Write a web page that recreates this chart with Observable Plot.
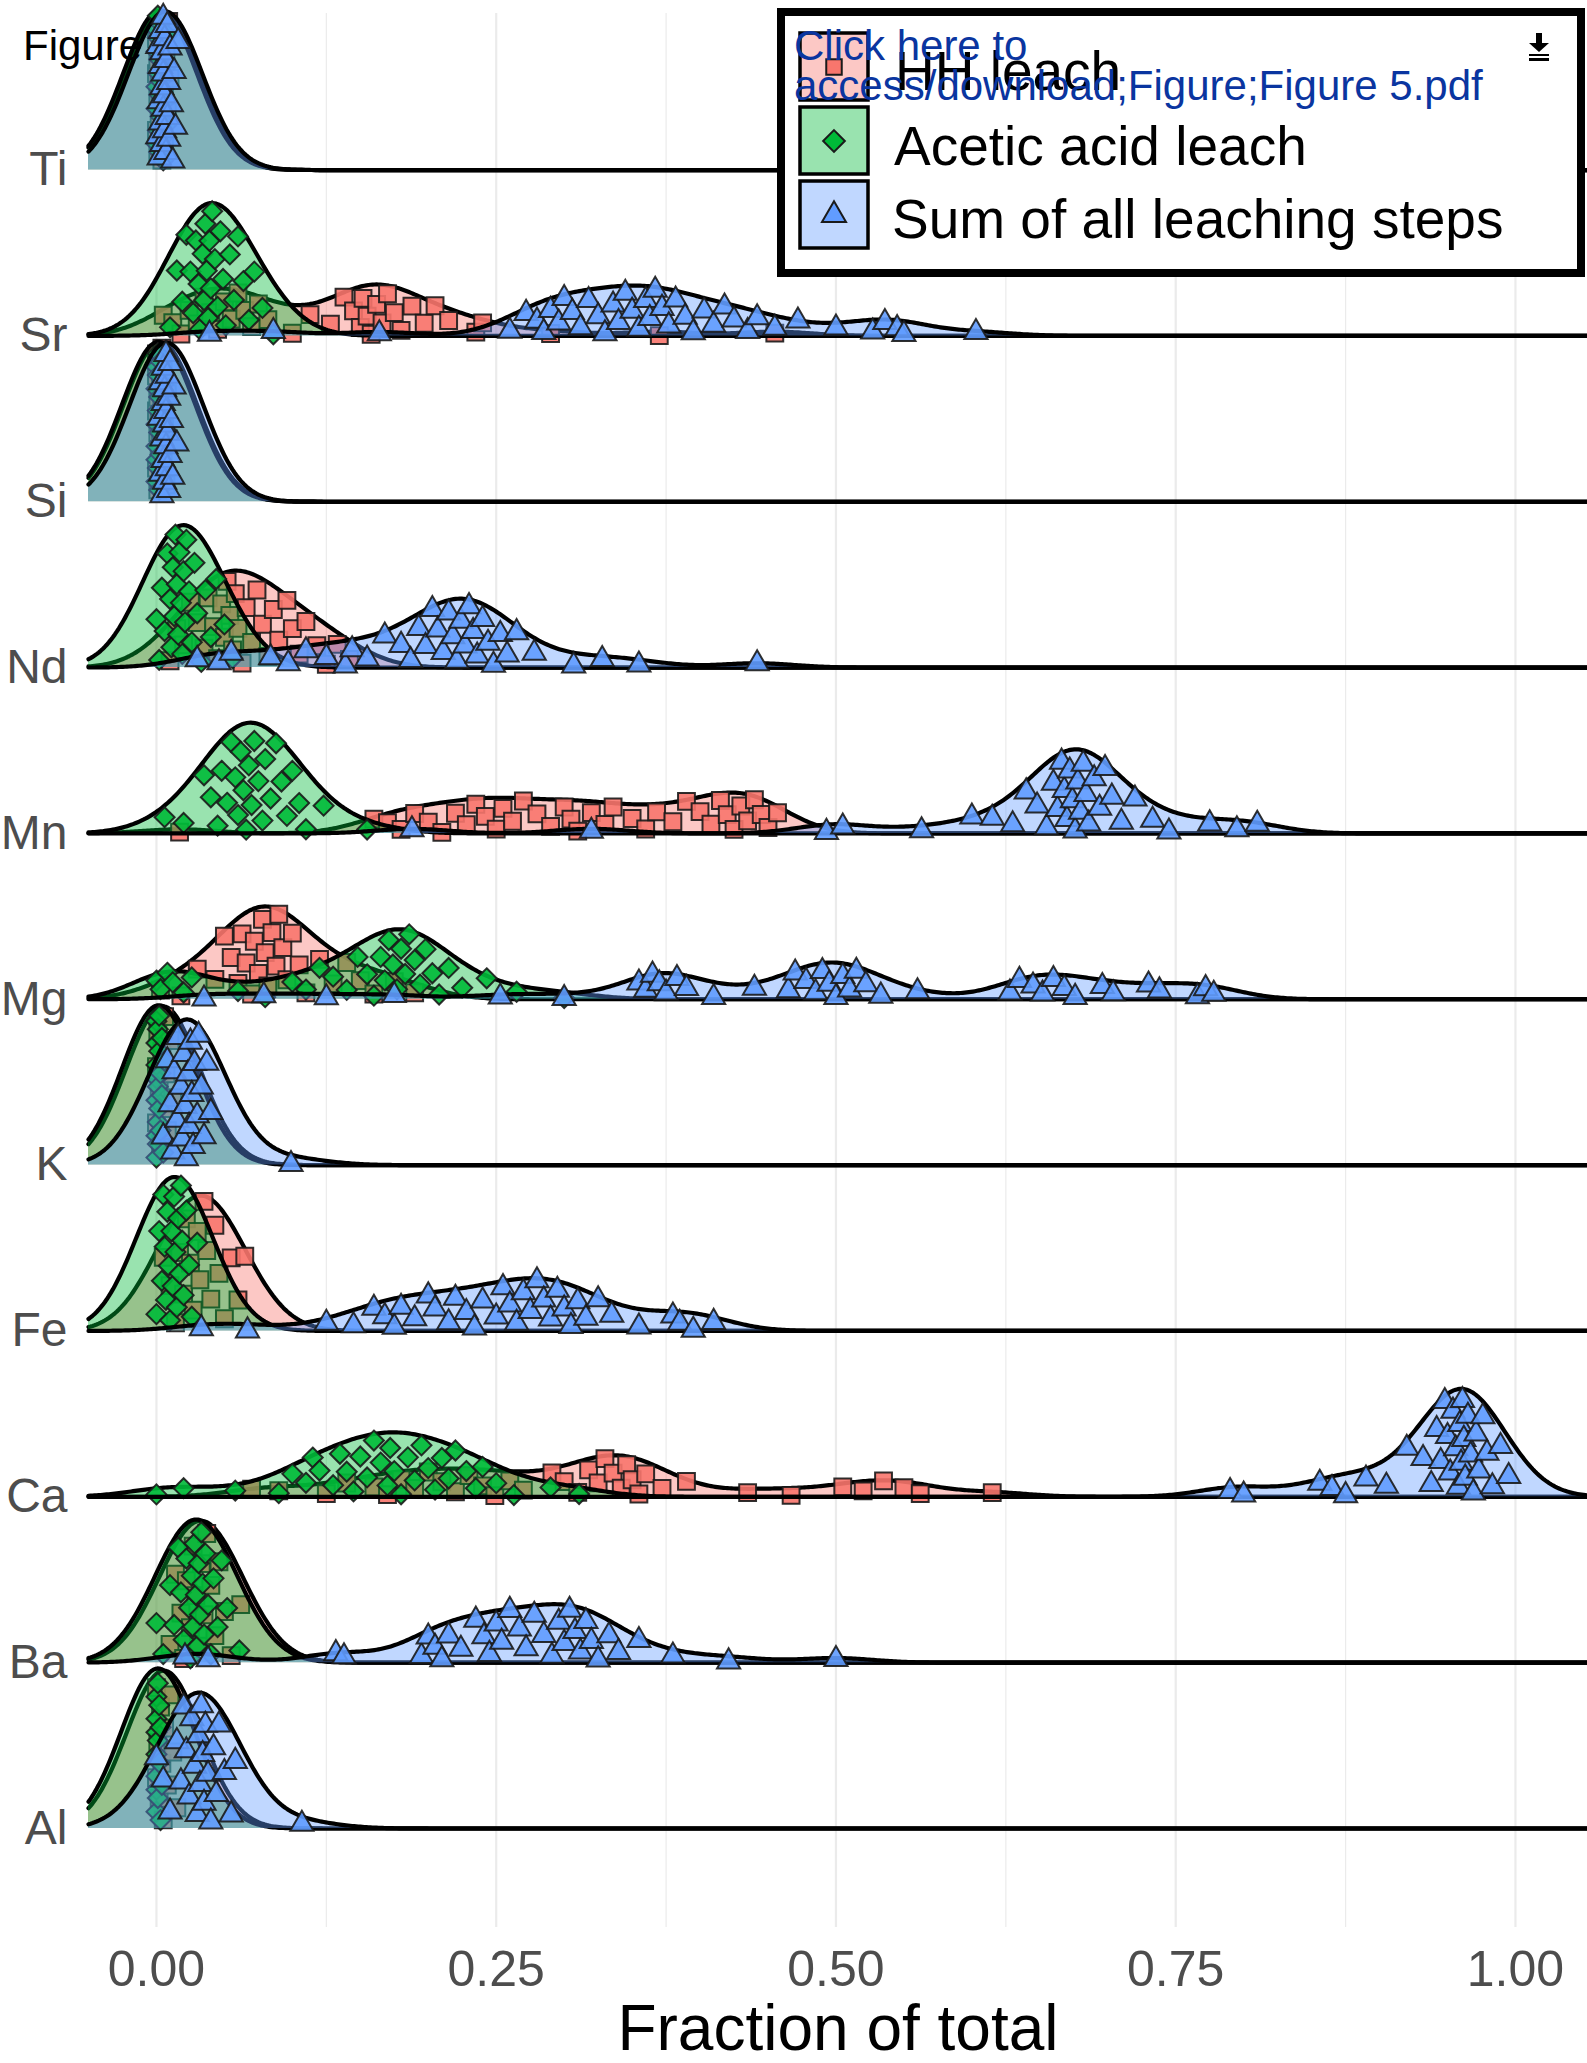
<!DOCTYPE html>
<html>
<head>
<meta charset="utf-8">
<script src="https://cdn.jsdelivr.net/npm/d3@7"></script>
<script src="https://cdn.jsdelivr.net/npm/@observablehq/plot@0.6"></script>
<style>
  html, body { margin: 0; padding: 0; background: #fff; }
  #wrap { position: relative; width: 1587px; height: 2063px; overflow: hidden; font-family: "Liberation Sans", Arial, Helvetica, sans-serif; }
  #overlay { position: absolute; left: 0; top: 0; pointer-events: none; }
</style>
</head>
<body>
<div id="wrap"></div>
<script>
// ---------------- data ----------------
const elements = ["Ti", "Sr", "Si", "Nd", "Mn", "Mg", "K", "Fe", "Ca", "Ba", "Al"]; // top to bottom
const seriesNames = ["HH leach", "Acetic acid leach", "Sum of all leaching steps"];
const xTicks = [0, 0.25, 0.5, 0.75, 1];
const xMinorTicks = [0.125, 0.375, 0.625, 0.875];

const hh_Ti = [0, 0, 0, 0.001, 0.001, 0.001, 0.002, 0.002, 0.002, 0.003, 0.003, 0.003, 0.004, 0.004, 0.005, 0.005, 0.006, 0.006, 0.007, 0.008, 0.009, 0.01];
const aa_Ti = [0, 0, 0, 0, 0, 0.001, 0.001, 0.001, 0.001, 0.002, 0.002, 0.002, 0.003, 0.003, 0.003, 0.004, 0.004, 0.005, 0.005, 0.006, 0.007, 0.008];
const sum_Ti = [0.001, 0.001, 0.002, 0.002, 0.003, 0.003, 0.003, 0.004, 0.004, 0.004, 0.005, 0.005, 0.005, 0.006, 0.006, 0.006, 0.007, 0.007, 0.008, 0.008, 0.009, 0.009, 0.01, 0.011, 0.012, 0.013, 0.014, 0.016];

const hh_Sr = [0.005, 0.012, 0.018, 0.024, 0.03, 0.035, 0.04, 0.045, 0.05, 0.055, 0.06, 0.065, 0.07, 0.075, 0.082, 0.1, 0.113, 0.128, 0.138, 0.145, 0.15, 0.152, 0.155, 0.158, 0.162, 0.166, 0.17, 0.175, 0.18, 0.188, 0.197, 0.205, 0.215, 0.235, 0.24, 0.29, 0.37, 0.455];
const aa_Sr = [0.01, 0.015, 0.019, 0.022, 0.025, 0.027, 0.029, 0.031, 0.032, 0.034, 0.035, 0.036, 0.037, 0.038, 0.039, 0.04, 0.041, 0.043, 0.045, 0.047, 0.049, 0.051, 0.054, 0.057, 0.06, 0.064, 0.068, 0.072, 0.078, 0.086];
const sum_Sr = [0.039, 0.086, 0.164, 0.26, 0.272, 0.28, 0.285, 0.29, 0.296, 0.3, 0.306, 0.312, 0.318, 0.325, 0.33, 0.336, 0.34, 0.345, 0.35, 0.355, 0.36, 0.363, 0.367, 0.372, 0.377, 0.382, 0.389, 0.395, 0.403, 0.41, 0.418, 0.425, 0.435, 0.442, 0.455, 0.472, 0.5, 0.527, 0.536, 0.545, 0.55, 0.603];

const hh_Si = [0, 0, 0, 0, 0.001, 0.001, 0.001, 0.002, 0.002, 0.002, 0.003, 0.003, 0.003, 0.004, 0.004, 0.005, 0.005, 0.006, 0.007, 0.008];
const aa_Si = [0, 0, 0, 0, 0, 0, 0.001, 0.001, 0.001, 0.001, 0.002, 0.002, 0.002, 0.003, 0.003, 0.004, 0.004, 0.005];
const sum_Si = [0.002, 0.003, 0.003, 0.004, 0.004, 0.005, 0.005, 0.005, 0.006, 0.006, 0.006, 0.007, 0.007, 0.007, 0.008, 0.008, 0.008, 0.009, 0.009, 0.01, 0.01, 0.011, 0.012, 0.013, 0.015];

const hh_Nd = [0.01, 0.015, 0.02, 0.025, 0.03, 0.035, 0.038, 0.042, 0.045, 0.048, 0.05, 0.052, 0.054, 0.056, 0.058, 0.06, 0.063, 0.066, 0.07, 0.074, 0.078, 0.082, 0.086, 0.09, 0.096, 0.1, 0.105, 0.11, 0.118, 0.125, 0.133, 0.142];
const aa_Nd = [0, 0.002, 0.004, 0.006, 0.008, 0.01, 0.011, 0.012, 0.013, 0.014, 0.015, 0.016, 0.017, 0.018, 0.019, 0.02, 0.021, 0.022, 0.024, 0.026, 0.028, 0.03, 0.033, 0.036, 0.04, 0.044, 0.05, 0.056];
const sum_Nd = [0.03, 0.046, 0.055, 0.084, 0.097, 0.11, 0.125, 0.139, 0.144, 0.155, 0.168, 0.18, 0.187, 0.193, 0.198, 0.203, 0.207, 0.211, 0.215, 0.218, 0.221, 0.224, 0.227, 0.23, 0.233, 0.236, 0.24, 0.244, 0.248, 0.253, 0.258, 0.265, 0.278, 0.307, 0.328, 0.355, 0.442];

const hh_Mn = [0.017, 0.16, 0.17, 0.18, 0.19, 0.2, 0.21, 0.22, 0.228, 0.235, 0.242, 0.25, 0.255, 0.262, 0.27, 0.28, 0.29, 0.3, 0.305, 0.31, 0.32, 0.33, 0.336, 0.35, 0.36, 0.368, 0.38, 0.39, 0.4, 0.408, 0.415, 0.42, 0.425, 0.43, 0.435, 0.44, 0.445, 0.45, 0.457];
const aa_Mn = [0.006, 0.02, 0.035, 0.04, 0.045, 0.048, 0.052, 0.055, 0.058, 0.06, 0.062, 0.064, 0.066, 0.068, 0.07, 0.072, 0.075, 0.078, 0.08, 0.084, 0.088, 0.092, 0.096, 0.1, 0.105, 0.11, 0.123, 0.155];
const sum_Mn = [0.188, 0.32, 0.493, 0.505, 0.563, 0.6, 0.615, 0.63, 0.64, 0.648, 0.655, 0.66, 0.663, 0.666, 0.668, 0.67, 0.672, 0.674, 0.676, 0.678, 0.68, 0.682, 0.684, 0.686, 0.69, 0.694, 0.698, 0.703, 0.71, 0.72, 0.733, 0.745, 0.775, 0.795, 0.81];

const hh_Mg = [0.003, 0.018, 0.03, 0.043, 0.05, 0.055, 0.06, 0.063, 0.066, 0.07, 0.072, 0.075, 0.078, 0.08, 0.082, 0.085, 0.088, 0.09, 0.093, 0.096, 0.1, 0.105, 0.11, 0.12, 0.13, 0.14, 0.15, 0.16, 0.175, 0.19];
const aa_Mg = [0, 0.003, 0.008, 0.012, 0.02, 0.026, 0.06, 0.08, 0.1, 0.11, 0.12, 0.13, 0.14, 0.148, 0.155, 0.16, 0.165, 0.168, 0.171, 0.174, 0.177, 0.18, 0.183, 0.186, 0.19, 0.194, 0.198, 0.203, 0.208, 0.215, 0.225, 0.243, 0.265, 0.3];
const sum_Mg = [0.035, 0.079, 0.125, 0.175, 0.253, 0.3, 0.355, 0.36, 0.365, 0.37, 0.375, 0.383, 0.39, 0.41, 0.44, 0.465, 0.47, 0.478, 0.485, 0.49, 0.495, 0.5, 0.505, 0.51, 0.515, 0.522, 0.533, 0.56, 0.628, 0.635, 0.645, 0.652, 0.66, 0.668, 0.676, 0.696, 0.704, 0.73, 0.738, 0.766, 0.772, 0.778];

const hh_K = [0, 0, 0.001, 0.002, 0.003, 0.004, 0.005, 0.006, 0.007, 0.008, 0.01, 0.012];
const aa_K = [0, 0, 0, 0, 0, 0, 0, 0.001, 0.001, 0.001, 0.001, 0.002, 0.002, 0.002, 0.003, 0.003, 0.004, 0.004, 0.005, 0.006];
const sum_K = [0.005, 0.008, 0.01, 0.012, 0.013, 0.015, 0.016, 0.018, 0.019, 0.02, 0.021, 0.022, 0.023, 0.024, 0.025, 0.026, 0.027, 0.028, 0.03, 0.031, 0.033, 0.035, 0.037, 0.04, 0.099];

const hh_Fe = [0.005, 0.01, 0.014, 0.017, 0.02, 0.022, 0.025, 0.027, 0.03, 0.032, 0.035, 0.037, 0.04, 0.043, 0.046, 0.05, 0.055, 0.06, 0.065];
const aa_Fe = [0, 0.002, 0.004, 0.005, 0.006, 0.007, 0.008, 0.009, 0.01, 0.011, 0.012, 0.013, 0.014, 0.015, 0.016, 0.017, 0.018, 0.019, 0.02, 0.022, 0.024, 0.026, 0.03];
const sum_Fe = [0.033, 0.067, 0.125, 0.145, 0.16, 0.168, 0.175, 0.18, 0.19, 0.2, 0.205, 0.215, 0.22, 0.228, 0.234, 0.24, 0.25, 0.255, 0.26, 0.265, 0.27, 0.275, 0.28, 0.285, 0.29, 0.295, 0.3, 0.305, 0.31, 0.316, 0.325, 0.335, 0.355, 0.38, 0.385, 0.395, 0.41];

const hh_Ca = [0.07, 0.09, 0.125, 0.14, 0.16, 0.17, 0.18, 0.19, 0.2, 0.21, 0.22, 0.23, 0.24, 0.249, 0.26, 0.27, 0.291, 0.3, 0.31, 0.318, 0.325, 0.33, 0.336, 0.342, 0.346, 0.35, 0.355, 0.36, 0.372, 0.39, 0.435, 0.467, 0.505, 0.52, 0.535, 0.55, 0.562, 0.615];
const aa_Ca = [0, 0.02, 0.058, 0.09, 0.1, 0.11, 0.115, 0.12, 0.13, 0.135, 0.14, 0.145, 0.15, 0.155, 0.16, 0.165, 0.17, 0.172, 0.175, 0.18, 0.185, 0.19, 0.195, 0.2, 0.205, 0.21, 0.215, 0.22, 0.228, 0.235, 0.24, 0.25, 0.263, 0.29, 0.311];
const sum_Ca = [0.79, 0.8, 0.856, 0.865, 0.875, 0.89, 0.905, 0.92, 0.932, 0.938, 0.942, 0.945, 0.948, 0.95, 0.952, 0.954, 0.956, 0.958, 0.959, 0.96, 0.961, 0.962, 0.963, 0.965, 0.967, 0.969, 0.971, 0.973, 0.976, 0.979, 0.983, 0.989, 0.995];

const hh_Ba = [0.01, 0.014, 0.018, 0.02, 0.022, 0.025, 0.027, 0.029, 0.031, 0.033, 0.035, 0.037, 0.04, 0.043, 0.046, 0.05, 0.055, 0.062];
const aa_Ba = [0, 0.005, 0.01, 0.013, 0.016, 0.018, 0.02, 0.022, 0.024, 0.025, 0.026, 0.027, 0.028, 0.029, 0.03, 0.031, 0.032, 0.033, 0.034, 0.035, 0.036, 0.038, 0.04, 0.042, 0.045, 0.048, 0.052, 0.061];
const sum_Ba = [0.021, 0.038, 0.132, 0.138, 0.195, 0.2, 0.205, 0.21, 0.215, 0.224, 0.235, 0.241, 0.245, 0.25, 0.254, 0.26, 0.267, 0.272, 0.278, 0.285, 0.291, 0.296, 0.3, 0.304, 0.308, 0.312, 0.316, 0.32, 0.325, 0.333, 0.34, 0.355, 0.38, 0.421, 0.5];

const hh_Al = [0, 0, 0.001, 0.002, 0.003, 0.004, 0.005, 0.006, 0.008, 0.01, 0.012, 0.015];
const aa_Al = [0, 0, 0, 0, 0, 0, 0, 0.001, 0.001, 0.001, 0.002, 0.002, 0.003, 0.003, 0.004];
const sum_Al = [0, 0.005, 0.01, 0.015, 0.018, 0.02, 0.022, 0.024, 0.026, 0.028, 0.03, 0.031, 0.032, 0.033, 0.034, 0.035, 0.036, 0.038, 0.04, 0.042, 0.044, 0.046, 0.05, 0.055, 0.058, 0.107];

// ---------------- styling ----------------
const seriesColors = ["#F8766D", "#00BA38", "#619CFF"];
const seriesSymbols = ["square", "diamond2", "triangle"];
const seriesR = [9.5, 9, 8.6];

// table built from the arrays
const byElement = {
  Ti: [hh_Ti, aa_Ti, sum_Ti], Sr: [hh_Sr, aa_Sr, sum_Sr], Si: [hh_Si, aa_Si, sum_Si],
  Nd: [hh_Nd, aa_Nd, sum_Nd], Mn: [hh_Mn, aa_Mn, sum_Mn], Mg: [hh_Mg, aa_Mg, sum_Mg],
  K: [hh_K, aa_K, sum_K], Fe: [hh_Fe, aa_Fe, sum_Fe], Ca: [hh_Ca, aa_Ca, sum_Ca],
  Ba: [hh_Ba, aa_Ba, sum_Ba], Al: [hh_Al, aa_Al, sum_Al]
};

// joint-bandwidth gaussian kernel density (as ggridges)
const bw = 0.027;
const xDomain = [-0.05, 1.053];
const nGrid = 740;
const grid = d3.range(nGrid).map(i => xDomain[0] + i * (xDomain[1] - xDomain[0]) / (nGrid - 1));
function kde(vals, x) {
  let s = 0;
  for (const v of vals) { const u = (x - v) / bw; s += Math.exp(-0.5 * u * u); }
  return s / (vals.length * bw * Math.sqrt(2 * Math.PI));
}

const curves = [];
let dMax = 0;
elements.forEach((el, ei) => {
  byElement[el].forEach((vals, si) => {
    const ds = grid.map(x => kde(vals, x));
    dMax = Math.max(dMax, d3.max(ds));
    curves.push({ el, ei, si, vals, ds });
  });
});
const k = 0.965 / dMax; // tallest ridge ~0.965 of row spacing

const ridgeRows = [];
const pointRows = [];
curves.forEach(({ el, ei, si, vals, ds }) => {
  const base = elements.length - 1 - ei;
  grid.forEach((x, gi) => ridgeRows.push({ el, series: si, x, y1: base, y2: base + ds[gi] * k }));
  // sina-style placement: points spread between baseline and density height
  vals.forEach((v, i) => {
    const u = 0.03 + 0.94 * (((i + 1) * 0.6180339887 + si * 0.29 + ei * 0.17) % 1);
    pointRows.push({ el, series: si, x: v, y: base + u * kde(vals, v) * k });
  });
});

const marks = [
  Plot.ruleX(xMinorTicks, { stroke: "#ebebeb", strokeWidth: 1.2 }),
  Plot.ruleX(xTicks, { stroke: "#ebebeb", strokeWidth: 2.2 })
];
seriesNames.forEach((s, si) => {
  const r = ridgeRows.filter(d => d.series === si);
  const p = pointRows.filter(d => d.series === si);
  marks.push(Plot.areaY(r, { x: "x", y1: "y1", y2: "y2", z: "el", fill: seriesColors[si], fillOpacity: 0.4 }));
  marks.push(Plot.line(r, { x: "x", y: "y2", z: "el", stroke: "#000", strokeWidth: 4.2 }));
  marks.push(Plot.dot(p, { x: "x", y: "y", symbol: seriesSymbols[si], r: seriesR[si], fill: seriesColors[si], fillOpacity: 0.9, stroke: "#1a1a1a", strokeOpacity: 0.9, strokeWidth: 2 }));
});
marks.push(
  Plot.axisY(d3.range(elements.length), { anchor: "left", tickFormat: i => elements[elements.length - 1 - i], tickSize: 0, tickPadding: 21, fontSize: 48, color: "#4d4d4d", label: null }),
  Plot.axisX(xTicks, { anchor: "bottom", tickFormat: d3.format(".2f"), tickSize: 0, tickPadding: 23, fontSize: 50, color: "#4d4d4d", label: null }),
  Plot.text(["Fraction of total"], { text: d => d, frameAnchor: "bottom", dy: 122, fontSize: 64, fill: "#000" })
);

const chart = Plot.plot({
  width: 1587,
  height: 2063,
  marginLeft: 88,
  marginRight: 0,
  marginTop: 13,
  marginBottom: 136,
  style: { fontFamily: "Liberation Sans, Arial, Helvetica, sans-serif", background: "#fff" },
  x: { domain: xDomain },
  y: { domain: [-0.597, 10.944] },
  marks
});
const wrap = document.getElementById("wrap");
wrap.appendChild(chart);

// ---------------- legend + stamp overlay ----------------
const ov = d3.select(wrap).append("svg")
  .attr("id", "overlay").attr("width", 1587).attr("height", 2063)
  .attr("font-family", "Liberation Sans, Arial, Helvetica, sans-serif");

ov.append("text").attr("x", 23).attr("y", 60).attr("font-size", 42).attr("fill", "#000").text("Figure");

ov.append("rect").attr("x", 781).attr("y", 12).attr("width", 800).attr("height", 261)
  .attr("fill", "#fff").attr("stroke", "#000").attr("stroke-width", 8);

const keyY = [33, 107, 181];
const textY = [90, 165, 238];
const textX = [895, 894, 892];
const symTypes = [d3.symbolSquare, d3.symbolDiamond2, d3.symbolTriangle];
const symSizes = [240, 300, 250];
seriesNames.forEach((s, si) => {
  ov.append("rect").attr("x", 800).attr("y", keyY[si]).attr("width", 68).attr("height", 67)
    .attr("fill", "#fff");
  ov.append("rect").attr("x", 800).attr("y", keyY[si]).attr("width", 68).attr("height", 67)
    .attr("fill", seriesColors[si]).attr("fill-opacity", 0.4).attr("stroke", "#000").attr("stroke-width", 3.5);
  ov.append("path").attr("d", d3.symbol(symTypes[si], symSizes[si])())
    .attr("transform", `translate(834,${keyY[si] + 34})`)
    .attr("fill", seriesColors[si]).attr("stroke", "#1a1a1a").attr("stroke-width", 2);
  ov.append("text").attr("x", textX[si]).attr("y", textY[si]).attr("font-size", 55).attr("fill", "#000").text(s);
});

ov.append("text").attr("x", 794).attr("y", 60).attr("font-size", 42).attr("fill", "#0a35a0").text("Click here to");
ov.append("text").attr("x", 794).attr("y", 100).attr("font-size", 42).attr("fill", "#0a35a0").text("access/download;Figure;Figure 5.pdf");

// download icon
ov.append("rect").attr("x", 1536).attr("y", 33).attr("width", 6).attr("height", 11).attr("fill", "#000");
ov.append("path").attr("d", "M1529,43L1549,43L1539,52Z").attr("fill", "#000");
ov.append("rect").attr("x", 1529).attr("y", 54).attr("width", 20).attr("height", 2).attr("fill", "#000");
ov.append("rect").attr("x", 1529).attr("y", 58).attr("width", 20).attr("height", 3).attr("fill", "#000");
</script>
</body>
</html>
